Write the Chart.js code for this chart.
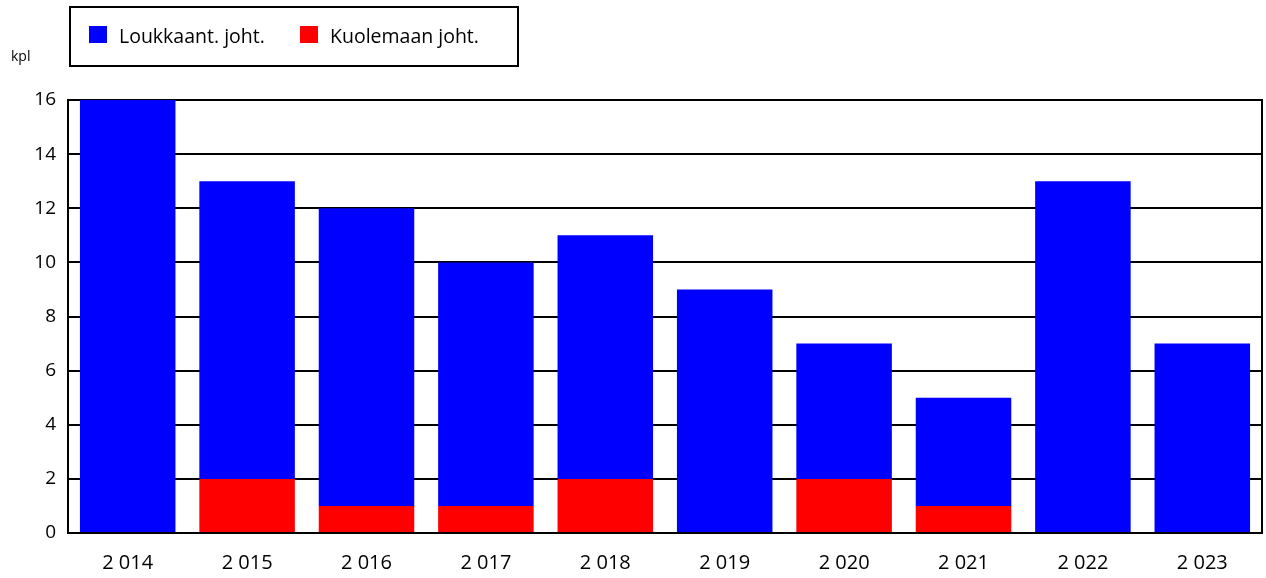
<!DOCTYPE html>
<html>
<head>
<meta charset="utf-8">
<script src="https://cdn.jsdelivr.net/npm/chart.js@4/dist/chart.umd.min.js"></script>
<style>
  html, body { margin: 0; padding: 0; background: #fff; }
</style>
</head>
<body>
<canvas id="myChart" width="1266" height="578"></canvas>
<script>
// data
const years = ['2 014', '2 015', '2 016', '2 017', '2 018', '2 019', '2 020', '2 021', '2 022', '2 023'];
const kuolemaan = [0, 2, 1, 1, 2, 0, 2, 1, 0, 0];
const loukkaant = [16, 11, 11, 9, 9, 9, 5, 4, 13, 7];
const yTicks = [0, 2, 4, 6, 8, 10, 12, 14, 16];

const FONT = '"Open Sans", "Noto Sans", sans-serif';

// frame round the plot, under the bars
const frame = {
  id: 'frame',
  beforeDatasetsDraw(chart) {
    const a = chart.chartArea;
    const ctx = chart.ctx;
    ctx.save();
    ctx.strokeStyle = '#000';
    ctx.lineWidth = 2;
    ctx.strokeRect(a.left, a.top, a.right - a.left, a.bottom - a.top);
    ctx.restore();
  }
};

// boxed legend + unit label
const legendBox = {
  id: 'legendBox',
  afterDraw(chart) {
    const ctx = chart.ctx;
    ctx.save();
    ctx.strokeStyle = '#000';
    ctx.lineWidth = 2;
    ctx.strokeRect(70, 7, 448, 59);
    ctx.font = '19.5px ' + FONT;
    ctx.textBaseline = 'middle';
    let x = 89;
    const items = [chart.data.datasets[1], chart.data.datasets[0]];
    items.forEach(function (ds) {
      ctx.fillStyle = ds.backgroundColor;
      ctx.fillRect(x, 26, 18, 17);
      ctx.fillStyle = '#000';
      ctx.fillText(ds.label, x + 30, 37);
      x += 211;
    });
    ctx.font = '14px ' + FONT;
    ctx.fillText('kpl', 11, 57);
    ctx.restore();
  }
};

new Chart(document.getElementById('myChart'), {
  type: 'bar',
  data: {
    labels: years,
    datasets: [
      { label: 'Kuolemaan joht.', data: kuolemaan, backgroundColor: '#ff0000' },
      { label: 'Loukkaant. joht.', data: loukkaant, backgroundColor: '#0000ff' }
    ]
  },
  options: {
    responsive: false,
    animation: false,
    devicePixelRatio: 1,
    layout: { padding: { top: 100, right: 4, left: 0, bottom: 0 } },
    plugins: { legend: { display: false }, tooltip: { enabled: false } },
    datasets: { bar: { barPercentage: 0.8, categoryPercentage: 1 } },
    scales: {
      x: {
        stacked: true,
        grid: { display: false },
        border: { display: false },
        ticks: { color: '#000', font: { family: FONT, size: 20 }, padding: 10, autoSkip: false, maxRotation: 0 },
        afterFit(s) { s.height = 45; }
      },
      y: {
        stacked: true,
        min: 0, max: 16,
        afterBuildTicks(s) { s.ticks = yTicks.map(v => ({ value: v })); },
        grid: { color: '#000', lineWidth: 2, drawTicks: false },
        border: { display: false },
        ticks: { color: '#000', font: { family: FONT, size: 19 }, padding: 12 },
        afterFit(s) { s.width = 68; }
      }
    }
  },
  plugins: [frame, legendBox]
});
</script>
</body>
</html>
